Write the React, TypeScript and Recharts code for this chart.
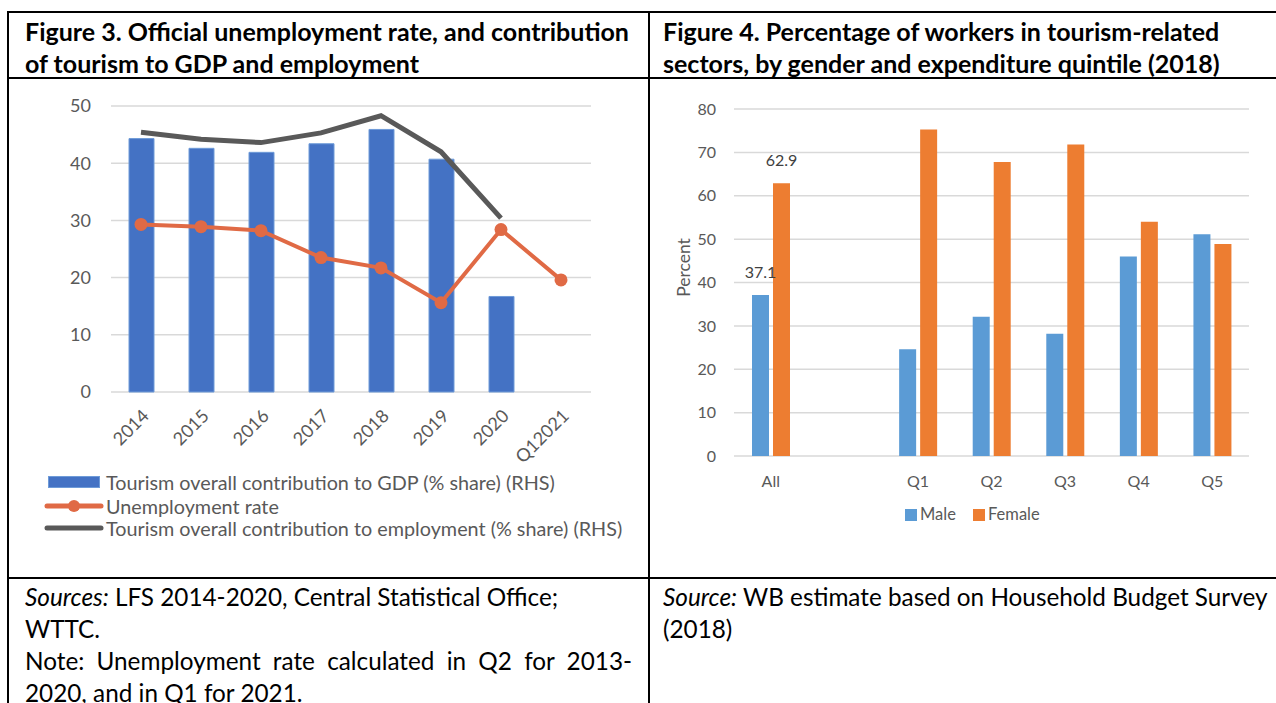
import React from "react";
import {
  ComposedChart,
  BarChart,
  Bar,
  Line,
  XAxis,
  YAxis,
  CartesianGrid,
  LabelList,
} from "recharts";

// Figure 3 data
const years = ["2014", "2015", "2016", "2017", "2018", "2019", "2020", "Q12021"];
const gdpShare = [44.3, 42.6, 41.9, 43.4, 45.9, 40.7, 16.7, null];
const unemploymentRate = [29.3, 28.9, 28.2, 23.5, 21.7, 15.6, 28.4, 19.6];
const employmentShare = [45.4, 44.2, 43.6, 45.3, 48.3, 42.0, 30.4, null];
const fig3Ticks = [0, 10, 20, 30, 40, 50];

// Figure 4 data
const groups = ["All", "", "Q1", "Q2", "Q3", "Q4", "Q5"];
const maleShare = [37.1, null, 24.6, 32.1, 28.2, 46.0, 51.1];
const femaleShare = [62.9, null, 75.3, 67.8, 71.8, 54.0, 48.9];
const fig4Ticks = [0, 10, 20, 30, 40, 50, 60, 70, 80];

const fig3Data = years.map((year, i) => ({
  year,
  gdp: gdpShare[i],
  unemp: unemploymentRate[i],
  emp: employmentShare[i],
}));

const fig4Data = groups.map((name, i) => ({
  name,
  male: maleShare[i],
  female: femaleShare[i],
  maleLabel: i === 0 ? maleShare[i] : null,
  femaleLabel: i === 0 ? femaleShare[i] : null,
}));

const FONT = "Lato, 'Open Sans', sans-serif";
const AXIS_GREY = "#595959";
const BLUE = "#4472C4";
const ORANGE_LINE = "#E06A45";
const MALE = "#5B9BD5";
const FEMALE = "#ED7D31";

const line = (style: React.CSSProperties) => (
  <div style={{ position: "absolute", background: "#000", ...style }} />
);

const barLabel = (props: any) => {
  const { x, y, width, value } = props;
  if (value === null || value === undefined) return null;
  return (
    <text
      x={x + width / 2}
      y={y - 17}
      textAnchor="middle"
      fontSize={16}
      fill="#404040"
      fontFamily={FONT}
    >
      {Number(value).toFixed(1)}
    </text>
  );
};

const percentLabel = (props: any) => {
  const { viewBox } = props;
  const x = viewBox.x - 1;
  const y = viewBox.y + viewBox.height / 2 - 15;
  return (
    <text
      x={x}
      y={y}
      transform={`rotate(-90, ${x}, ${y})`}
      textAnchor="middle"
      dominantBaseline="central"
      fontSize={17.5}
      fill={AXIS_GREY}
      fontFamily={FONT}
    >
      Percent
    </text>
  );
};

function Figure3() {
  return (
    <div style={{ position: "absolute", left: 8, top: 80 }}>
      <ComposedChart
        width={640}
        height={400}
        data={fig3Data}
        margin={{ top: 26, right: 57, left: 43, bottom: 28 }}
      >
        <CartesianGrid vertical={false} stroke="#D9D9D9" strokeWidth={1.5} />
        <XAxis
          dataKey="year"
          interval={0}
          tickLine={false}
          axisLine={false}
          height={60}
          angle={-45}
          textAnchor="end"
          tickMargin={10}
          tick={{ fontSize: 18, fill: AXIS_GREY, fontFamily: FONT }}
        />
        <YAxis
          domain={[0, 50]}
          ticks={fig3Ticks}
          width={60}
          tickLine={false}
          axisLine={false}
          tickSize={0}
          tickMargin={20}
          tick={{ fontSize: 18, fill: AXIS_GREY, fontFamily: FONT }}
        />
        <Bar
          dataKey="gdp"
          fill={BLUE}
          stroke="#6E9BD8"
          strokeWidth={1}
          barSize={25}
          isAnimationActive={false}
        />
        <Line
          dataKey="emp"
          type="linear"
          stroke={AXIS_GREY}
          strokeWidth={5}
          dot={false}
          isAnimationActive={false}
        />
        <Line
          dataKey="unemp"
          type="linear"
          stroke={ORANGE_LINE}
          strokeWidth={4}
          dot={{ r: 6.5, fill: ORANGE_LINE, stroke: ORANGE_LINE, strokeWidth: 0 }}
          isAnimationActive={false}
        />
      </ComposedChart>
    </div>
  );
}

function Figure3Legend() {
  const text: React.CSSProperties = {
    position: "absolute",
    left: 106,
    fontSize: 19.8,
    color: AXIS_GREY,
    fontFamily: FONT,
    whiteSpace: "nowrap",
    lineHeight: "22px",
  };
  return (
    <>
      <div
        style={{
          position: "absolute",
          left: 48,
          top: 476,
          width: 50,
          height: 10,
          background: BLUE,
          border: "1px solid #6E9BD8",
        }}
      />
      <div style={{ ...text, top: 471 }}>
        Tourism overall contribution to GDP (% share) (RHS)
      </div>
      <svg style={{ position: "absolute", left: 44, top: 496 }} width={60} height={20}>
        <line x1={3} y1={10} x2={57} y2={10} stroke={ORANGE_LINE} strokeWidth={5} strokeLinecap="round" />
        <circle cx={30} cy={10} r={6} fill={ORANGE_LINE} />
      </svg>
      <div style={{ ...text, top: 495 }}>Unemployment rate</div>
      <svg style={{ position: "absolute", left: 44, top: 518 }} width={60} height={20}>
        <line x1={3} y1={10} x2={57} y2={10} stroke={AXIS_GREY} strokeWidth={5} strokeLinecap="round" />
      </svg>
      <div style={{ ...text, top: 517 }}>
        Tourism overall contribution to employment (% share) (RHS)
      </div>
    </>
  );
}

function Figure4() {
  return (
    <div style={{ position: "absolute", left: 650, top: 80 }}>
      <BarChart
        width={620}
        height={420}
        data={fig4Data}
        barGap={4}
        margin={{ top: 29, right: 21, left: 34, bottom: 14 }}
      >
        <CartesianGrid vertical={false} stroke="#D9D9D9" strokeWidth={1.5} />
        <XAxis
          dataKey="name"
          interval={0}
          tickLine={false}
          axisLine={false}
          height={30}
          tickMargin={14}
          tick={{ fontSize: 16, fill: AXIS_GREY, fontFamily: FONT }}
        />
        <YAxis
          domain={[0, 80]}
          ticks={fig4Ticks}
          width={50}
          tickLine={false}
          axisLine={false}
          tickSize={0}
          tickMargin={18}
          tick={{ fontSize: 16, fill: AXIS_GREY, fontFamily: FONT }}
          label={{ content: percentLabel }}
        />
        <Bar dataKey="male" fill={MALE} barSize={17} isAnimationActive={false}>
          <LabelList dataKey="maleLabel" content={barLabel} />
        </Bar>
        <Bar dataKey="female" fill={FEMALE} barSize={17} isAnimationActive={false}>
          <LabelList dataKey="femaleLabel" content={barLabel} />
        </Bar>
      </BarChart>
    </div>
  );
}

function Figure4Legend() {
  const text: React.CSSProperties = {
    position: "absolute",
    top: 504,
    fontSize: 16.5,
    color: AXIS_GREY,
    fontFamily: FONT,
    lineHeight: "20px",
  };
  return (
    <>
      <div style={{ position: "absolute", left: 905, top: 509, width: 12, height: 12, background: MALE }} />
      <div style={{ ...text, left: 920 }}>Male</div>
      <div style={{ position: "absolute", left: 973, top: 509, width: 12, height: 12, background: FEMALE }} />
      <div style={{ ...text, left: 988 }}>Female</div>
    </>
  );
}

export default function App() {
  const heading: React.CSSProperties = {
    position: "absolute",
    top: 15,
    fontSize: 25,
    fontWeight: 700,
    lineHeight: "32px",
    fontFamily: FONT,
    color: "#000",
    whiteSpace: "nowrap",
  };
  const body: React.CSSProperties = {
    position: "absolute",
    top: 581,
    fontSize: 24.3,
    lineHeight: "32px",
    fontFamily: FONT,
    color: "#000",
  };
  return (
    <div
      style={{
        position: "fixed",
        left: 0,
        top: 0,
        width: 1276,
        height: 703,
        overflow: "hidden",
        background: "#fff",
      }}
    >
      {line({ left: 7, top: 11, width: 1300, height: 2 })}
      {line({ left: 7, top: 77, width: 1300, height: 2 })}
      {line({ left: 7, top: 577, width: 1300, height: 2 })}
      {line({ left: 7, top: 11, width: 2, height: 800 })}
      {line({ left: 648, top: 11, width: 2, height: 800 })}

      <div style={{ ...heading, left: 25 }}>
        Figure 3. Official unemployment rate, and contribution
        <br />
        of tourism to GDP and employment
      </div>
      <div style={{ ...heading, left: 663 }}>
        Figure 4. Percentage of workers in tourism-related
        <br />
        sectors, by gender and expenditure quintile (2018)
      </div>

      <Figure3 />
      <Figure3Legend />
      <Figure4 />
      <Figure4Legend />

      <div style={{ ...body, left: 25, width: 607 }}>
        <div style={{ whiteSpace: "nowrap" }}>
          <i>Sources:</i> LFS 2014-2020, Central Statistical Office;
        </div>
        <div>WTTC.</div>
        <div style={{ textAlign: "justify", textAlignLast: "justify" }}>
          Note: Unemployment rate calculated in Q2 for 2013-
        </div>
        <div>2020, and in Q1 for 2021.</div>
      </div>
      <div style={{ ...body, left: 663, whiteSpace: "nowrap" }}>
        <div>
          <i>Source:</i> WB estimate based on Household Budget Survey
        </div>
        <div>(2018)</div>
      </div>
    </div>
  );
}
